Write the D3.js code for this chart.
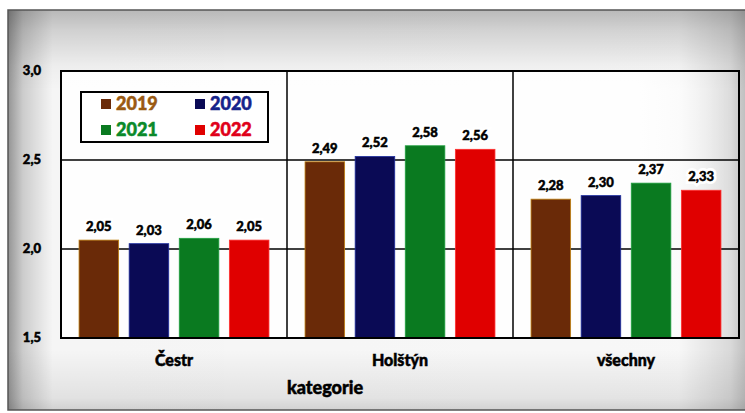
<!DOCTYPE html>
<html><head><meta charset="utf-8">
<script src="https://cdn.jsdelivr.net/npm/d3@7"></script>
<style>
html,body{margin:0;padding:0;background:#fff;}
svg{display:block;font-family:Lato,"Open Sans",sans-serif;font-weight:900;}
</style></head>
<body>
<svg id="c" width="745" height="413"></svg>
<script>
const categories = ["Čestr", "Holštýn", "všechny"];
const years = ["2019", "2020", "2021", "2022"];
const v2019 = [2.05, 2.49, 2.28];
const v2020 = [2.03, 2.52, 2.30];
const v2021 = [2.06, 2.58, 2.37];
const v2022 = [2.05, 2.56, 2.33];
const yTicks = [1.5, 2.0, 2.5, 3.0];
const seriesValues = [v2019, v2020, v2021, v2022];
const barColors = ["#6a2a08", "#0a0a55", "#0a7a20", "#e00000"];
const barStroke = ["#c08010", "#2030a0", "#20a040", "#ff3030"];
const legendText = ["#9a5a12", "#15238a", "#0a8a2a", "#e0001a"];

const svg = d3.select("#c");
const defs = svg.append("defs");
const hg = defs.append("linearGradient").attr("id","hg").attr("x1","0").attr("x2","1").attr("y1","0").attr("y2","0");
[[0,"#000",0.42],[0.02,"#000",0.2],[0.06,"#000",0.04],[0.9,"#000",0.03],[0.97,"#000",0.15],[1,"#000",0.3]]
  .forEach(s=>hg.append("stop").attr("offset",s[0]).attr("stop-color",s[1]).attr("stop-opacity",s[2]));
const vg = defs.append("linearGradient").attr("id","vg").attr("x1","0").attr("x2","0").attr("y1","0").attr("y2","1");
[[0,"#000",0.25],[0.05,"#000",0.15],[0.14,"#000",0.03],[0.2,"#000",0],[0.85,"#000",0],[0.97,"#000",0.08],[1,"#000",0.15]]
  .forEach(s=>vg.append("stop").attr("offset",s[0]).attr("stop-color",s[1]).attr("stop-opacity",s[2]));
const pg = defs.append("linearGradient").attr("id","pg").attr("x1","0").attr("x2","1").attr("y1","0").attr("y2","1");
[[0,0.9],[0.85,0.9],[1,0]].forEach(s=>pg.append("stop").attr("offset",s[0]).attr("stop-color","#fff").attr("stop-opacity",s[1]));
pg.attr("y2","0");

svg.append("rect").attr("x",0).attr("y",0).attr("width",745).attr("height",413).attr("fill","#fff");
svg.append("rect").attr("x",8).attr("y",10).attr("width",745).attr("height",400).attr("fill","#fff");
svg.append("rect").attr("x",8).attr("y",10).attr("width",745).attr("height",400).attr("fill","url(#hg)");
svg.append("rect").attr("x",8).attr("y",10).attr("width",745).attr("height",400).attr("fill","url(#vg)");
svg.append("rect").attr("x",8).attr("y",10).attr("width",745).attr("height",400)
  .attr("fill","none").attr("stroke","#555").attr("stroke-width",1.5);

const m = {l:61, r:739, t:71, b:338};
const x0 = d3.scaleBand().domain(categories).range([m.l, m.r]).paddingInner(0).paddingOuter(0);
const x1 = d3.scaleBand().domain(years).range([0, x0.bandwidth()]).paddingInner(0.21).paddingOuter(0.36);
const y = d3.scaleLinear().domain([1.5, 3.0]).range([m.b, m.t]);

// plot area
svg.append("rect").attr("x",m.l).attr("y",m.t).attr("width",m.r-m.l).attr("height",m.b-m.t).attr("fill","url(#pg)");

// gridlines
svg.append("g").selectAll("line").data(yTicks.slice(1,3)).join("line")
  .attr("x1",m.l).attr("x2",m.r).attr("y1",d=>y(d)).attr("y2",d=>y(d))
  .attr("stroke","#000").attr("stroke-width",1.5);

// category dividers
svg.append("g").selectAll("line").data(categories.slice(1)).join("line")
  .attr("x1",d=>x0(d)).attr("x2",d=>x0(d)).attr("y1",m.t).attr("y2",m.b)
  .attr("stroke","#000").attr("stroke-width",1.5);

// bars
const groups = svg.append("g").selectAll("g").data(categories).join("g")
  .attr("transform",d=>`translate(${x0(d)},0)`);
const cells = (c,i)=>years.map((yr,j)=>({yr,j,v:seriesValues[j][i]}));
groups.selectAll("rect").data(cells).join("rect")
  .attr("x",d=>x1(d.yr)).attr("width",x1.bandwidth())
  .attr("y",d=>y(d.v)).attr("height",d=>y(1.5)-y(d.v))
  .attr("fill",d=>barColors[d.j]).attr("stroke",d=>barStroke[d.j]).attr("stroke-width",0.8);

// value labels (halo + bold text)
const fmt2 = d=>d3.format(".2f")(d.v).replace(".",",");
groups.selectAll("text.halo").data(cells).join("text").attr("class","halo")
  .attr("x",d=>x1(d.yr)+x1.bandwidth()/2).attr("y",d=>y(d.v)-9)
  .attr("text-anchor","middle").attr("font-size",13).attr("fill","#fff")
  .attr("stroke","#fff").attr("stroke-width",6).text(fmt2);
groups.selectAll("text.val").data(cells).join("text").attr("class","val")
  .attr("x",d=>x1(d.yr)+x1.bandwidth()/2).attr("y",d=>y(d.v)-9)
  .attr("text-anchor","middle").attr("font-size",13).attr("fill","#000")
  .attr("stroke","#000").attr("stroke-width",0.5).text(fmt2);

// plot border
svg.append("rect").attr("x",m.l).attr("y",m.t).attr("width",m.r-m.l).attr("height",m.b-m.t)
  .attr("fill","none").attr("stroke","#000").attr("stroke-width",2);

// y axis labels
svg.append("g").selectAll("text").data(yTicks).join("text")
  .attr("x",41).attr("y",d=>y(d)+4).attr("text-anchor","end").attr("font-size",13).attr("fill","#000")
  .attr("stroke","#000").attr("stroke-width",0.5)
  .text(d=>d3.format(".1f")(d).replace(".",","));

// category labels
svg.append("g").selectAll("text").data(categories).join("text")
  .attr("x",d=>x0(d)+x0.bandwidth()/2).attr("y",366).attr("text-anchor","middle")
  .attr("font-size",16).attr("fill","#000").attr("stroke","#000").attr("stroke-width",0.5).text(d=>d);

svg.append("text").attr("x",325).attr("y",394).attr("text-anchor","middle")
  .attr("font-size",18).attr("fill","#000").attr("stroke","#000").attr("stroke-width",0.5).text("kategorie");

// legend
const lg = svg.append("g");
lg.append("rect").attr("x",81).attr("y",92).attr("width",187).attr("height",50)
  .attr("fill","#fff").attr("stroke","#000").attr("stroke-width",2);
const lpos = [[101,104],[195,104],[101,130],[195,130]];
years.forEach((yr,j)=>{
  lg.append("rect").attr("x",lpos[j][0]).attr("y",lpos[j][1]-5).attr("width",10).attr("height",10).attr("fill",barColors[j]);
  lg.append("text").attr("x",lpos[j][0]+15).attr("y",lpos[j][1]+6).attr("font-size",18)
    .attr("fill",legendText[j]).attr("stroke",legendText[j]).attr("stroke-width",0.5).text(yr);
});
</script>
</body></html>
